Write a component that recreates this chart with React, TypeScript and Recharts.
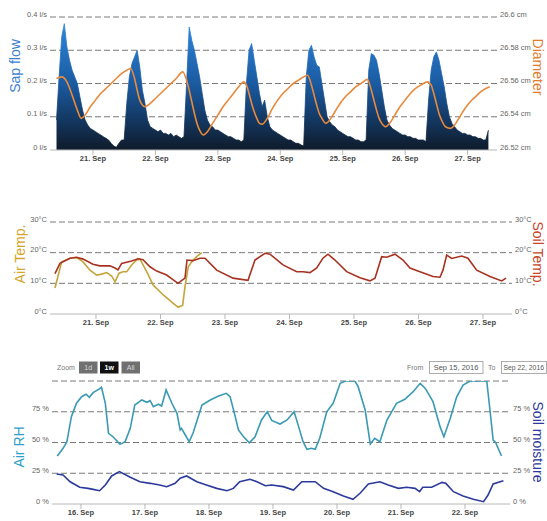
import React from 'react';
import { ComposedChart, Area, Line, XAxis, YAxis, CartesianGrid } from 'recharts';

const FONT = '"Liberation Sans", Arial, sans-serif';

// ---- Panel 1: sap flow (hourly, hours counted from 21 Sep 00:00) + stem diameter
const sapStartHour = -14;
const sapFlow = [
  0.09, 0.22, 0.34, 0.38, 0.31, 0.27, 0.24, 0.22, 0.2, 0.16, 0.12, 0.09, 0.075, 0.065,
  0.06, 0.055, 0.05, 0.045, 0.04, 0.035, 0.03, 0.02, 0.012, 0.008, 0.02, 0.03,
  0.03, 0.14, 0.22, 0.26, 0.28, 0.3, 0.25, 0.18, 0.14, 0.09, 0.07, 0.065,
  0.06, 0.055, 0.06, 0.05, 0.05, 0.045, 0.05, 0.04, 0.045, 0.04, 0.035, 0.04,
  0.2, 0.37, 0.33, 0.3, 0.26, 0.22, 0.17, 0.12, 0.09, 0.075, 0.07, 0.06,
  0.06, 0.055, 0.05, 0.045, 0.04, 0.04, 0.035, 0.03, 0.03, 0.025, 0.03, 0.2,
  0.3, 0.32, 0.27, 0.22, 0.17, 0.13, 0.15, 0.1, 0.07, 0.06, 0.055, 0.05,
  0.045, 0.04, 0.035, 0.03, 0.03, 0.025, 0.02, 0.02, 0.015, 0.012, 0.22, 0.3,
  0.315, 0.28, 0.255, 0.25, 0.2, 0.15, 0.1, 0.085, 0.075, 0.07, 0.06, 0.055,
  0.05, 0.045, 0.04, 0.04, 0.035, 0.03, 0.03, 0.025, 0.025, 0.03, 0.24, 0.29,
  0.285, 0.27, 0.23, 0.18, 0.13, 0.09, 0.075, 0.065, 0.06, 0.055, 0.05, 0.045,
  0.045, 0.04, 0.04, 0.035, 0.035, 0.03, 0.03, 0.03, 0.025, 0.15, 0.24, 0.28,
  0.295, 0.27, 0.23, 0.19, 0.14, 0.1, 0.08, 0.07, 0.06, 0.055, 0.05, 0.05,
  0.045, 0.045, 0.04, 0.04, 0.035, 0.035, 0.03, 0.03, 0.06,
];

const diameterHours = [
  -14, -12, -10, -8, -6, -4.5, -3, -1, 1, 3, 5, 7, 9, 11, 13, 14.5,
  16, 17, 18, 19, 20, 22, 24, 26, 28, 30, 32, 34.5,
  36, 37, 38, 39, 40, 41, 42.5, 44, 46, 48, 50, 52, 54, 56, 58,
  59, 60, 61, 62, 63, 64, 65, 67, 69, 71, 73, 75, 77, 79, 81, 82.5,
  84, 85, 86, 87, 88, 89.5, 91, 93, 95, 97, 99, 101, 103, 105.5,
  107, 108, 109, 110, 111, 112.5, 114, 116, 118, 120, 122, 124, 126, 128.5,
  130, 131, 132, 133, 134, 135.5, 137.5, 139, 141, 143, 145, 147, 149, 151, 152.5,
];
const diameterCm = [
  26.563, 26.564, 26.561, 26.553, 26.544, 26.539, 26.541, 26.546, 26.55, 26.554, 26.557, 26.56, 26.563, 26.566, 26.568, 26.569,
  26.563, 26.556, 26.55, 26.547, 26.546, 26.548, 26.551, 26.554, 26.557, 26.56, 26.563, 26.567,
  26.562, 26.556, 26.549, 26.542, 26.536, 26.532, 26.529, 26.531, 26.536, 26.541, 26.546, 26.55, 26.554, 26.558, 26.561,
  26.559, 26.554, 26.548, 26.543, 26.539, 26.536, 26.5355, 26.539, 26.545, 26.55, 26.554, 26.557, 26.56, 26.562, 26.564, 26.565,
  26.559, 26.553, 26.547, 26.542, 26.539, 26.536, 26.538, 26.543, 26.548, 26.552, 26.555, 26.558, 26.56, 26.5625,
  26.556, 26.55, 26.544, 26.539, 26.536, 26.534, 26.536, 26.541, 26.546, 26.55, 26.554, 26.557, 26.559, 26.561,
  26.559, 26.554, 26.548, 26.542, 26.538, 26.534, 26.533, 26.535, 26.54, 26.545, 26.549, 26.552, 26.555, 26.557, 26.558,
];

const sapDayTicks = [0, 24, 48, 72, 96, 120, 144];
const sapTicks = [0, 0.1, 0.2, 0.3, 0.4];
const diameterTicks = [26.52, 26.54, 26.56, 26.58, 26.6];

// ---- Panel 2: temperatures (x = day of September)
const airTempDays = [
  20.364, 20.395, 20.468, 20.597, 20.7, 20.8, 20.907, 21.01, 21.088, 21.166, 21.243, 21.295, 21.357, 21.419, 21.476,
  21.553, 21.631, 21.682, 21.786, 21.888, 22.043, 22.198, 22.276, 22.344, 22.38, 22.431, 22.484, 22.561, 22.639,
];
const airTemp = [
  8.5, 11, 17, 18.2, 18.4, 17, 14.3, 12.7, 13, 13.5, 12.4, 10.5, 13.3, 13.8, 13.8,
  16, 17.6, 17.9, 13.8, 9.4, 6.2, 3.5, 2.2, 2.9, 8.9, 15.4, 17, 18.7, 20,
];
const soilTempDays = [
  20.364, 20.442, 20.597, 20.7, 20.8, 20.953, 21.062, 21.217, 21.295, 21.341, 21.398, 21.553, 21.651, 21.729, 21.837,
  21.941, 22.096, 22.271, 22.38, 22.411, 22.504, 22.612, 22.69, 22.871, 23.124, 23.357, 23.465, 23.62, 23.698, 23.899,
  24.112, 24.209, 24.318, 24.422, 24.519, 24.597, 24.705, 24.887, 25.093, 25.248, 25.326, 25.429, 25.507, 25.636,
  25.76, 25.868, 26.023, 26.225, 26.333, 26.38, 26.437, 26.515, 26.67, 26.767, 26.902, 27.109, 27.29, 27.357,
];
const soilTemp = [
  13.2, 16.5, 18.2, 18.5, 17.9, 16.2, 15.7, 15.7, 15, 14.4, 16.5, 17.3, 18, 17.7, 15.4,
  14, 12.7, 10, 11.7, 17.6, 17.4, 18.2, 18.2, 14.3, 11.7, 11, 17.6, 19.8, 19.5, 16,
  13.8, 13.8, 13.5, 15, 18.2, 19.5, 17.6, 13.8, 11.8, 10.8, 11.7, 18.7, 18.5, 19.5,
  17.6, 15, 13.8, 12.2, 12, 14.3, 19.2, 18.1, 18.9, 18.2, 14.3, 12.2, 10.8, 11.7,
];
const tempDayTicks = [21, 22, 23, 24, 25, 26, 27];
const tempTicks = [0, 10, 20, 30];

// ---- Panel 3: humidity / soil moisture (x = day of September)
const airRhDays = [
  15.63, 15.72, 15.78, 15.85, 15.93, 16.01, 16.08, 16.13, 16.19, 16.3, 16.32, 16.38, 16.43, 16.5, 16.61, 16.69,
  16.77, 16.84, 16.95, 17.03, 17.08, 17.13, 17.21, 17.26, 17.33, 17.42, 17.5, 17.55, 17.57, 17.63, 17.69, 17.75,
  17.89, 18.02, 18.15, 18.27, 18.33, 18.41, 18.46, 18.54, 18.63, 18.72, 18.82, 18.91, 18.98, 19.11, 19.22, 19.33,
  19.4, 19.47, 19.53, 19.6, 19.66, 19.73, 19.84, 19.94, 20.05, 20.13, 20.28, 20.33, 20.44, 20.52, 20.59, 20.67,
  20.78, 20.93, 21.06, 21.19, 21.3, 21.38, 21.5, 21.61, 21.67, 21.77, 21.87, 21.97, 22.08, 22.34, 22.39, 22.44,
  22.48, 22.57,
];
const airRh = [
  39, 45.3, 50.7, 71, 81.9, 87.2, 89.2, 86.7, 90.5, 94, 94.9, 81.9, 57.5, 54.7, 48.5, 50.7,
  61.5, 80.5, 84.6, 82.7, 84, 79.1, 81.1, 79.7, 92.7, 81.9, 73.7, 60.2, 61.5, 56.1, 50.7, 57.5,
  80.5, 84.6, 87.8, 90, 87.2, 71, 60.2, 54.7, 49.8, 54.7, 68.3, 75, 68, 65, 68.3, 75,
  62.9, 50.7, 44.4, 45.3, 44.4, 53.4, 75, 81.9, 98.1, 100, 100, 95.4, 76.4, 48.8, 53.4, 50.7,
  68.3, 81.9, 85.1, 91.3, 98.1, 94, 83.2, 62.9, 54.7, 69.7, 87.2, 96.7, 100, 100, 76.4, 52,
  49.8, 39,
];
const soilMoistureDays = [
  15.62, 15.72, 15.83, 15.98, 16.11, 16.19, 16.29, 16.38, 16.48, 16.6, 16.77, 16.92, 17.08, 17.23, 17.34, 17.47,
  17.55, 17.65, 17.81, 17.96, 18.12, 18.28, 18.38, 18.48, 18.64, 18.75, 18.88, 18.98, 19.16, 19.32, 19.45, 19.66,
  19.79, 19.94, 20.1, 20.25, 20.36, 20.49, 20.67, 20.8, 20.96, 21.09, 21.22, 21.29, 21.34, 21.48, 21.64, 21.7,
  21.82, 21.97, 22.13, 22.29, 22.36, 22.44, 22.6,
];
const soilMoisture = [
  24.4, 23.6, 18.1, 13.6, 12.7, 11.9, 10.8, 15.4, 22.8, 26.3, 21.7, 18.1, 16.8, 15.4, 14.1, 16.8,
  20.9, 22.8, 18.1, 15.4, 12.7, 10.8, 12.7, 18.1, 20.1, 18.1, 14.9, 15.4, 14.1, 11.4, 18.1, 18.1,
  12.7, 10, 6.5, 3.8, 8.7, 16.3, 18.1, 15.4, 12.7, 13.6, 12.7, 10, 13.6, 13.6, 17.6, 16.8,
  10, 6.5, 3.8, 1.9, 7.3, 16.3, 18.9,
];
const rhDayTicks = [16, 17, 18, 19, 20, 21, 22];
const pctTicks = [0, 25, 50, 75, 100];

type Series = { key: string; xs: number[]; ys: number[] };
function merge(series: Series[]) {
  const rows = new Map<number, any>();
  series.forEach((s) =>
    s.xs.forEach((x, i) => {
      const row = rows.get(x) ?? { x };
      row[s.key] = s.ys[i];
      rows.set(x, row);
    }),
  );
  return [...rows.values()].sort((a, b) => a.x - b.x);
}

const sapData = merge([
  { key: 'sap', xs: sapFlow.map((_, i) => sapStartHour + i), ys: sapFlow },
  { key: 'diam', xs: diameterHours, ys: diameterCm },
]);
const tempData = merge([
  { key: 'air', xs: airTempDays, ys: airTemp },
  { key: 'soil', xs: soilTempDays, ys: soilTemp },
]);
const rhData = merge([
  { key: 'rh', xs: airRhDays, ys: airRh },
  { key: 'moist', xs: soilMoistureDays, ys: soilMoisture },
]);

const yTick = (fmt: (v: number) => string) => (p: any) => (
  <text x={p.x} y={p.y - 3} dy="0.35em" textAnchor={p.textAnchor} fontSize={7.5} fill="#666" fontFamily={FONT}>
    {fmt(p.payload.value)}
  </text>
);
const xTick = (fmt: (v: number) => string) => (p: any) => (
  <text x={p.x} y={p.y + 3.5} dy="0.35em" textAnchor="middle" fontSize={7.5} fontWeight={600} fill="#444" fontFamily={FONT}>
    {fmt(p.payload.value)}
  </text>
);

const grid = { vertical: false, stroke: '#7a7a7a', strokeDasharray: '6 3' };
const yCommon = { axisLine: false, tickLine: false, tickSize: 0, tickMargin: 3, allowDataOverflow: true, interval: 0 as const };
const xCommon = { type: 'number' as const, dataKey: 'x', allowDataOverflow: true, tickSize: 5, tickMargin: 0, stroke: '#b8b8b8', interval: 0 as const };

const Title = ({ x, y, rot, color, children }: any) => (
  <text x={x} y={y} transform={`rotate(${rot} ${x} ${y})`} textAnchor="middle" dominantBaseline="central" fontSize={14} fill={color} fontFamily={FONT}>
    {children}
  </text>
);

const Button = ({ x, label, active }: any) => (
  <g>
    <rect x={x} y={361.5} width={18.5} height={12} fill={active ? '#111' : '#707070'} />
    <text x={x + 9.25} y={367.5} dy="0.35em" textAnchor="middle" fontSize={7} fontWeight={active ? 700 : 400} fill={active ? '#fff' : '#d8d8d8'} fontFamily={FONT}>
      {label}
    </text>
  </g>
);

export default function App() {
  return (
    <div style={{ position: 'absolute', left: 0, top: 0, width: 547, height: 521, background: '#fff', overflow: 'hidden' }}>
      <div style={{ position: 'absolute', left: 0, top: 0 }}>
        <ComposedChart width={547} height={170} data={sapData} margin={{ top: 17, right: 0, bottom: 0, left: 0 }}>
          <defs>
            <linearGradient id="sapGrad" x1="0" y1="0" x2="0" y2="1">
              <stop offset="0" stopColor="#2e86dc" />
              <stop offset="0.48" stopColor="#1a5aa0" />
              <stop offset="0.74" stopColor="#143a66" />
              <stop offset="1" stopColor="#0f1b2a" />
            </linearGradient>
          </defs>
          <CartesianGrid {...grid} yAxisId="sap" horizontalValues={[0.1, 0.2, 0.3, 0.4]} />
          <XAxis {...xCommon} domain={[-16.5, 155.3]} ticks={sapDayTicks} height={20} tick={xTick((h) => `${21 + h / 24}. Sep`)} />
          <YAxis {...yCommon} yAxisId="sap" orientation="left" width={50} domain={[0, 0.4]} ticks={sapTicks} tick={yTick((v) => `${v} l/s`)} />
          <YAxis {...yCommon} yAxisId="diam" orientation="right" width={50} domain={[26.52, 26.6]} ticks={diameterTicks} tick={yTick((v) => `${parseFloat(v.toFixed(2))} cm`)} />
          <Area yAxisId="sap" dataKey="sap" type="linear" fill="url(#sapGrad)" fillOpacity={1} stroke="url(#sapGrad)" strokeWidth={0.8} dot={false} activeDot={false} connectNulls isAnimationActive={false} />
          <Line yAxisId="diam" dataKey="diam" type="monotone" stroke="#e8893b" strokeWidth={1.6} dot={false} activeDot={false} connectNulls isAnimationActive={false} />
        </ComposedChart>
      </div>

      <div style={{ position: 'absolute', left: 0, top: 190 }}>
        <ComposedChart width={547} height={144} data={tempData} margin={{ top: 32, right: 0, bottom: 0, left: 0 }}>
          <CartesianGrid {...grid} yAxisId="air" horizontalValues={[10, 20, 30]} />
          <XAxis {...xCommon} domain={[20.287, 27.45]} ticks={tempDayTicks} height={20} tick={xTick((d) => `${d}. Sep`)} />
          <YAxis {...yCommon} yAxisId="air" orientation="left" width={50} domain={[0, 30]} ticks={tempTicks} tick={yTick((v) => `${v}°C`)} />
          <YAxis {...yCommon} yAxisId="soil" orientation="right" width={35} domain={[0, 30]} ticks={tempTicks} tick={yTick((v) => `${v}°C`)} />
          <Line yAxisId="air" dataKey="air" type="linear" stroke="#c4a53c" strokeWidth={1.6} dot={false} activeDot={false} connectNulls isAnimationActive={false} />
          <Line yAxisId="soil" dataKey="soil" type="linear" stroke="#a8321f" strokeWidth={1.6} dot={false} activeDot={false} connectNulls isAnimationActive={false} />
        </ComposedChart>
      </div>

      <div style={{ position: 'absolute', left: 0, top: 360 }}>
        <ComposedChart width={547} height={161} data={rhData} margin={{ top: 21, right: 0, bottom: 0, left: 0 }}>
          <CartesianGrid {...grid} yAxisId="rh" horizontalValues={[25, 50, 75, 100]} />
          <XAxis {...xCommon} domain={[15.547, 22.703]} ticks={rhDayTicks} height={17} tick={xTick((d) => `${d}. Sep`)} />
          <YAxis {...yCommon} yAxisId="rh" orientation="left" width={52} domain={[0, 100]} ticks={pctTicks} tick={yTick((v) => (v === 100 ? '' : `${v} %`))} />
          <YAxis {...yCommon} yAxisId="moist" orientation="right" width={37} domain={[0, 100]} ticks={pctTicks} tick={yTick((v) => (v === 100 ? '' : `${v} %`))} />
          <Line yAxisId="rh" dataKey="rh" type="linear" stroke="#3a9ab4" strokeWidth={1.6} dot={false} activeDot={false} connectNulls isAnimationActive={false} />
          <Line yAxisId="moist" dataKey="moist" type="linear" stroke="#2c3a9c" strokeWidth={1.6} dot={false} activeDot={false} connectNulls isAnimationActive={false} />
        </ComposedChart>
      </div>

      <svg width={547} height={521} style={{ position: 'absolute', left: 0, top: 0, pointerEvents: 'none' }}>
        <Title x={15} y={66} rot={-90} color="#3a7fd0">Sap flow</Title>
        <Title x={538} y={67} rot={90} color="#e07d2f">Diameter</Title>
        <Title x={20} y={254} rot={-90} color="#d4a527">Air Temp.</Title>
        <Title x={538} y={254} rot={90} color="#c8452a">Soil Temp.</Title>
        <Title x={19} y={447} rot={-90} color="#2fa0c8">Air RH</Title>
        <Title x={538} y={442} rot={90} color="#2b3a9c">Soil moisture</Title>

        <text x={57} y={367.5} dy="0.35em" fontSize={7} fill="#777" fontFamily={FONT}>Zoom</text>
        <Button x={79} label="1d" />
        <Button x={100} label="1w" active />
        <Button x={121.5} label="All" />

        <text x={407} y={367.5} dy="0.35em" fontSize={7} fill="#777" fontFamily={FONT}>From</text>
        <rect x={429.5} y={361.5} width={53.5} height={12} fill="#fff" stroke="#999" strokeWidth={0.8} />
        <text x={456} y={367.5} dy="0.35em" textAnchor="middle" fontSize={7.5} fill="#555" fontFamily={FONT}>Sep 15, 2016</text>
        <text x={488} y={367.5} dy="0.35em" fontSize={7} fill="#777" fontFamily={FONT}>To</text>
        <rect x={501.5} y={361.5} width={45} height={12} fill="#fff" stroke="#999" strokeWidth={0.8} />
        <text x={503.5} y={367.5} dy="0.35em" fontSize={6.8} fill="#555" fontFamily={FONT}>Sep 22, 2016</text>
      </svg>
    </div>
  );
}
